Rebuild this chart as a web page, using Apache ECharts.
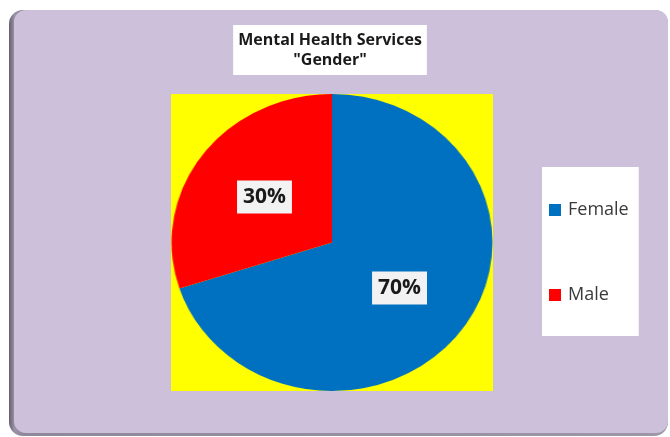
<!DOCTYPE html>
<html>
<head>
<meta charset="utf-8">
<script src="https://cdn.jsdelivr.net/npm/echarts@6/dist/echarts.min.js"></script>
<style>
  html, body { margin: 0; padding: 0; background: #ffffff; }
  #wrap { position: relative; width: 670px; height: 437px; overflow: hidden; }
  #frame, #labels { position: absolute; left: 0; top: 0; width: 670px; height: 437px; }
  /* the plot area is stretched horizontally, so the pie becomes an ellipse */
  #pie { position: absolute; left: 183px; top: 94px; width: 298px; height: 297px;
         transform: scaleX(1.0805); transform-origin: 149px 148.5px; }
</style>
</head>
<body>
<div id="wrap">
  <div id="frame"></div>
  <div id="pie"></div>
  <div id="labels"></div>
</div>
<script>
// Mental Health Services — clients by gender (percent)
const categories = ['Female', 'Male'];
const shares = [70, 30];
const sliceColors = ['#0070C0', '#FF0000'];
const titleLines = ['Mental Health Services', '"Gender"'];

const STRETCH = 1.0805;          // horizontal stretch of the plot area
const PIE_CENTER = [332, 242.5];
const PIE_RADIUS = 148.5;
const FONT = '"Open Sans", "Noto Sans", sans-serif';

const pieData = categories.map((name, i) => ({ name: name, value: shares[i] }));

// Outer rounded panel with its dark left/bottom edge
const frameChart = echarts.init(document.getElementById('frame'), null, { renderer: 'canvas' });
frameChart.setOption({
  animation: false,
  graphic: [
    {
      type: 'rect',
      shape: { x: 9, y: 10, width: 659, height: 426, r: 14 },
      style: {
        fill: new echarts.graphic.LinearGradient(0, 0, 1, 0, [
          { offset: 0, color: '#66606e' },
          { offset: 0.008, color: '#9a92a6' },
          { offset: 0.02, color: '#8f889a' },
          { offset: 1, color: '#9e97a8' }
        ])
      }
    },
    {
      type: 'rect',
      shape: { x: 14, y: 10, width: 654, height: 423, r: 12 },
      style: { fill: '#CCC0DA' }
    }
  ]
});

// Yellow plot area and the pie slices
const pieChart = echarts.init(document.getElementById('pie'), null, { renderer: 'canvas' });
pieChart.setOption({
  animation: false,
  backgroundColor: '#FFFF00',
  series: [{
    type: 'pie',
    center: ['50%', '50%'],
    radius: PIE_RADIUS,
    startAngle: 90,
    clockwise: true,
    label: { show: false },
    labelLine: { show: false },
    itemStyle: { borderWidth: 0 },
    emphasis: { disabled: true },
    data: pieData.map((d, i) => ({ ...d, itemStyle: { color: sliceColors[i] } }))
  }]
});

// Title, legend and percentage labels drawn above the pie
const labelChart = echarts.init(document.getElementById('labels'), null, { renderer: 'canvas' });
labelChart.setOption({
  animation: false,
  backgroundColor: 'transparent',
  title: {
    text: titleLines.join('\n'),
    left: 325,
    top: 25,
    textAlign: 'center',
    backgroundColor: '#ffffff',
    padding: [5, 5],
    textStyle: {
      fontFamily: FONT,
      fontWeight: 'bold',
      fontSize: 16,
      lineHeight: 20,
      color: '#1a1a1a'
    }
  },
  legend: {
    orient: 'vertical',
    left: 542,
    top: 167,
    backgroundColor: '#ffffff',
    padding: [33, 10, 31, 7],
    itemGap: 65,
    itemWidth: 12,
    itemHeight: 12,
    icon: 'rect',
    selectedMode: false,
    textStyle: {
      fontFamily: FONT,
      fontSize: 18,
      lineHeight: 20,
      color: '#3a3a3a',
      padding: [0, 0, 0, 2]
    },
    data: categories.map((name, i) => ({ name: name, itemStyle: { color: sliceColors[i], opacity: 1 } }))
  },
  series: [{
    type: 'pie',
    center: PIE_CENTER,
    radius: PIE_RADIUS,
    startAngle: 90,
    clockwise: true,
    silent: true,
    itemStyle: { color: 'rgba(0,0,0,0)', borderWidth: 0 },
    emphasis: { disabled: true },
    labelLine: { show: false },
    label: {
      show: true,
      position: 'inside',
      formatter: '{d}%',
      fontFamily: FONT,
      fontWeight: 'bold',
      fontSize: 21,
      lineHeight: 22,
      color: '#1a1a1a',
      backgroundColor: '#F2F2F2',
      padding: [6, 6, 5, 6]
    },
    // follow the horizontal stretch of the slices underneath
    labelLayout: function (p) {
      const cx = p.labelRect.x + p.labelRect.width / 2;
      return { dx: (cx - PIE_CENTER[0]) * (STRETCH - 1) };
    },
    data: pieData
  }]
});
</script>
</body>
</html>
